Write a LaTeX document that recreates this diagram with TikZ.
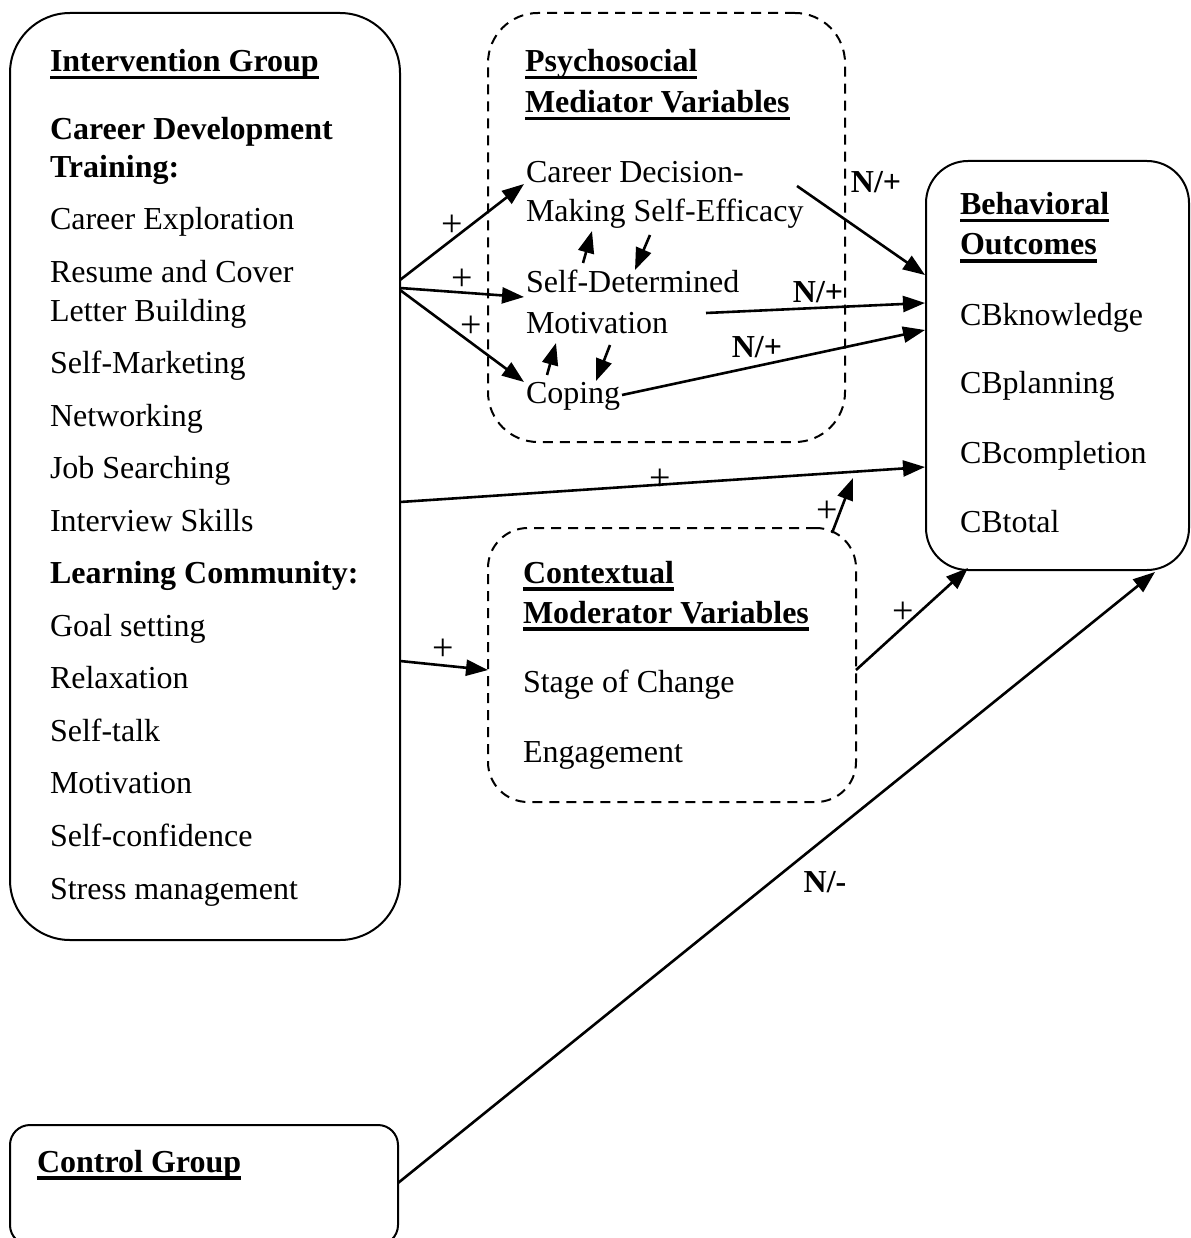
\documentclass[tikz,border=0pt]{standalone}
\usepackage{fontspec}
\setmainfont{Liberation Serif}
\usetikzlibrary{arrows.meta}
\newcommand\ulbox[1]{\setbox0\hbox{#1}\rlap{\rule[-7.5pt]{\wd0}{3.5pt}}\box0}
\begin{document}
\begin{tikzpicture}[x=1pt,y=-1pt,
  every node/.style={font=\fontsize{32}{38}\selectfont, inner sep=0pt, outer sep=0pt},
  txt/.style={anchor=base west},
  solidbox/.style={draw, line width=2pt, rounded corners=#1},
  dashbox/.style={draw, line width=2pt, dash pattern=on 10pt off 7pt, rounded corners=#1},
  conn/.style={line width=2.6pt, -{Triangle[length=22pt,width=16pt]}},
  lab/.style={font=\fontsize{38}{44}\selectfont},
  blab/.style={font=\fontsize{32}{38}\selectfont\bfseries}]
\useasboundingbox (0,0) rectangle (1190,1238);
% boxes
\node[solidbox=60pt, minimum width=390pt, minimum height=927pt] (interv) at (205,476.5) {};
\node[dashbox=50pt, minimum width=357pt, minimum height=429pt] (medi) at (666.5,227.5) {};
\node[solidbox=42pt, minimum width=263pt, minimum height=409pt] (behav) at (1057.5,365.5) {};
\node[dashbox=40pt, minimum width=368pt, minimum height=274pt] (moder) at (672,665) {};
\node[solidbox=20pt, minimum width=388pt, minimum height=120pt] (control) at (204,1185) {};
% intervention text
\node[txt] (i1) at (50,72) {\bfseries\ulbox{Intervention Group}};
\node[txt] (i2) at (50,140) {\bfseries Career Development};
\node[txt] (i3) at (50,178) {\bfseries Training:};
\node[txt] (i4) at (50,230) {Career Exploration};
\node[txt] (i5) at (50,283) {Resume and Cover};
\node[txt] (i6) at (50,321) {Letter Building};
\node[txt] (i7) at (50,373) {Self-Marketing};
\node[txt] (i8) at (50,426) {Networking};
\node[txt] (i9) at (50,478) {Job Searching};
\node[txt] (i10) at (50,531) {Interview Skills};
\node[txt] (i11) at (50,583) {\bfseries Learning Community:};
\node[txt] (i12) at (50,636) {Goal setting};
\node[txt] (i13) at (50,688) {Relaxation};
\node[txt] (i14) at (50,741) {Self-talk};
\node[txt] (i15) at (50,793) {Motivation};
\node[txt] (i16) at (50,846) {Self-confidence};
\node[txt] (i17) at (50,899) {Stress management};
% mediator text
\node[txt] (m1) at (525,72) {\bfseries\ulbox{Psychosocial}};
\node[txt] (m2) at (525,113) {\bfseries\ulbox{Mediator Variables}};
\node[txt] (m3) at (526,183) {Career Decision-};
\node[txt] (m4) at (526,222) {Making Self-Efficacy};
\node[txt] (m5) at (526,293) {Self-Determined};
\node[txt] (m6) at (526,333) {Motivation};
\node[txt] (m7) at (526,403) {Coping};
% behavioral text
\node[txt] (b1) at (960,215) {\bfseries\ulbox{Behavioral}};
\node[txt] (b2) at (960,255) {\bfseries\ulbox{Outcomes}};
\node[txt] (b3) at (960,325) {CBknowledge};
\node[txt] (b4) at (960,393) {CBplanning};
\node[txt] (b5) at (960,463) {CBcompletion};
\node[txt] (b6) at (960,532) {CBtotal};
% moderator text
\node[txt] (c1) at (523,583) {\bfseries\ulbox{Contextual}};
\node[txt] (c2) at (523,623) {\bfseries\ulbox{Moderator Variables}};
\node[txt] (c3) at (523,692) {Stage of Change};
\node[txt] (c4) at (523,762) {Engagement};
% control text
\node[txt] (g1) at (37,1172) {\bfseries\ulbox{Control Group}};
% connector end points
\coordinate (a1s) at (400,280);
\coordinate (a1e) at (524,184);
\coordinate (a2s) at (400,288);
\coordinate (a2e) at (524,297);
\coordinate (a3s) at (400,290);
\coordinate (a3e) at (524,382);
\coordinate (a4s) at (797,186);
\coordinate (a4e) at (925,275);
\coordinate (a5s) at (706,313);
\coordinate (a5e) at (925,303);
\coordinate (a6s) at (622,395);
\coordinate (a6e) at (925,330);
\coordinate (a7s) at (400,502);
\coordinate (a7e) at (925,467);
\coordinate (a8s) at (400,661);
\coordinate (a8e) at (488,670);
\coordinate (a9s) at (832,533);
\coordinate (a9e) at (853,478);
\coordinate (a10s) at (856,670);
\coordinate (a10e) at (968,568);
\coordinate (a11s) at (398,1183);
\coordinate (a11e) at (1155,572);
\coordinate (s1s) at (583,263);
\coordinate (s1e) at (592,231);
\coordinate (s2s) at (650,235);
\coordinate (s2e) at (635,270);
\coordinate (s3s) at (547,375);
\coordinate (s3e) at (556,343);
\coordinate (s4s) at (610,345);
\coordinate (s4e) at (596,381);
% connectors
\draw[conn] (a1s) -- (a1e);
\draw[conn] (a2s) -- (a2e);
\draw[conn] (a3s) -- (a3e);
\draw[conn] (a4s) -- (a4e);
\draw[conn] (a5s) -- (a5e);
\draw[conn] (a6s) -- (a6e);
\draw[conn] (a7s) -- (a7e);
\draw[conn] (a8s) -- (a8e);
\draw[conn] (a9s) -- (a9e);
\draw[conn] (a10s) -- (a10e);
\draw[conn] (a11s) -- (a11e);
\draw[conn] (s1s) -- (s1e);
\draw[conn] (s2s) -- (s2e);
\draw[conn] (s3s) -- (s3e);
\draw[conn] (s4s) -- (s4e);
% labels
\node[lab] (l1) at (452,226) {+};
\node[lab] (l2) at (462,280) {+};
\node[lab] (l3) at (471,327) {+};
\node[blab] (l4) at (876,182) {N/+};
\node[blab] (l5) at (818,292) {N/+};
\node[blab] (l6) at (757,347) {N/+};
\node[lab] (l7) at (660,480) {+};
\node[lab] (l8) at (443,650) {+};
\node[lab] (l9) at (827,512) {+};
\node[lab] (l10) at (903,613) {+};
\node[blab] (l11) at (825,882) {N/-};
\end{tikzpicture}
\end{document}
